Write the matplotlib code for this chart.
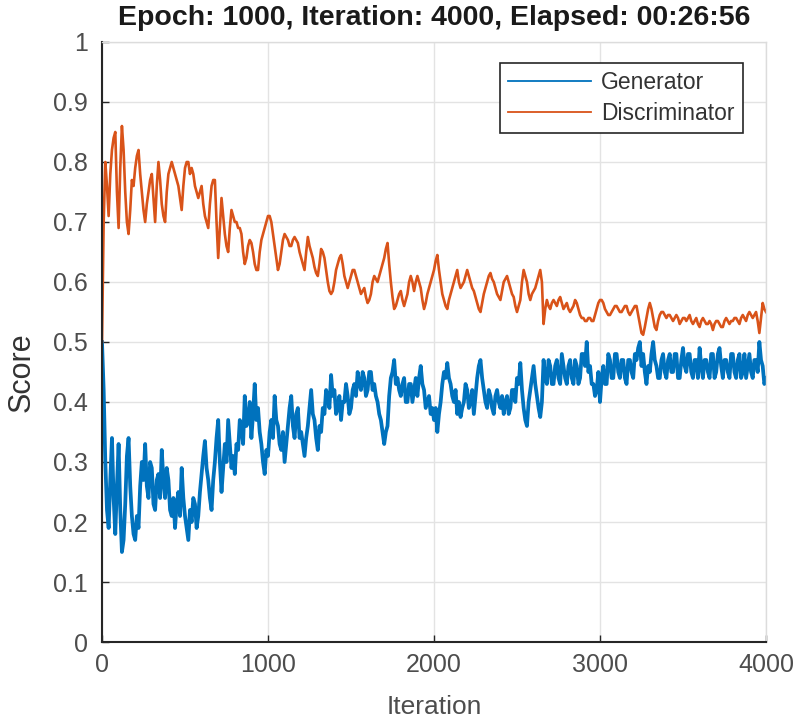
import matplotlib
matplotlib.use("Agg")
import matplotlib.pyplot as plt
import numpy as np

# scores logged every 10 iterations (one row = 200 iterations)
generator = [
    0.50, 0.42, 0.30, 0.22, 0.19, 0.27, 0.34, 0.24, 0.18, 0.26, 0.33, 0.22, 0.15, 0.17, 0.23, 0.31, 0.34, 0.26, 0.21, 0.18,
    0.17, 0.21, 0.19, 0.26, 0.30, 0.27, 0.33, 0.26, 0.24, 0.30, 0.29, 0.23, 0.22, 0.27, 0.28, 0.24, 0.32, 0.27, 0.24, 0.29,
    0.27, 0.22, 0.21, 0.24, 0.19, 0.23, 0.25, 0.21, 0.29, 0.24, 0.21, 0.19, 0.17, 0.22, 0.20, 0.24, 0.23, 0.19, 0.21, 0.25,
    0.28, 0.31, 0.335, 0.29, 0.27, 0.24, 0.22, 0.27, 0.30, 0.34, 0.37, 0.30, 0.25, 0.29, 0.33, 0.30, 0.37, 0.33, 0.29, 0.31,
    0.28, 0.33, 0.32, 0.37, 0.36, 0.33, 0.41, 0.36, 0.37, 0.40, 0.34, 0.38, 0.43, 0.37, 0.39, 0.35, 0.33, 0.30, 0.28, 0.32,
    0.31, 0.35, 0.37, 0.34, 0.41, 0.37, 0.36, 0.33, 0.32, 0.35, 0.30, 0.33, 0.36, 0.39, 0.41, 0.36, 0.34, 0.38, 0.39, 0.34,
    0.35, 0.33, 0.31, 0.34, 0.36, 0.39, 0.42, 0.38, 0.37, 0.34, 0.32, 0.36, 0.35, 0.39, 0.38, 0.42, 0.41, 0.39, 0.445, 0.41,
    0.42, 0.38, 0.39, 0.41, 0.37, 0.40, 0.40, 0.43, 0.41, 0.38, 0.39, 0.42, 0.43, 0.41, 0.45, 0.43, 0.42, 0.45, 0.44, 0.41,
    0.42, 0.45, 0.45, 0.42, 0.43, 0.41, 0.40, 0.38, 0.37, 0.35, 0.33, 0.35, 0.36, 0.41, 0.44, 0.45, 0.47, 0.43, 0.44, 0.42,
    0.41, 0.43, 0.44, 0.40, 0.40, 0.43, 0.43, 0.40, 0.42, 0.44, 0.41, 0.44, 0.46, 0.43, 0.42, 0.39, 0.40, 0.41, 0.38, 0.39,
    0.37, 0.39, 0.35, 0.38, 0.40, 0.43, 0.45, 0.44, 0.465, 0.44, 0.43, 0.41, 0.40, 0.42, 0.38, 0.40, 0.375, 0.39, 0.40, 0.43,
    0.42, 0.39, 0.40, 0.42, 0.38, 0.41, 0.44, 0.46, 0.47, 0.44, 0.42, 0.40, 0.39, 0.42, 0.41, 0.39, 0.38, 0.41, 0.42, 0.40,
    0.39, 0.41, 0.38, 0.40, 0.41, 0.38, 0.39, 0.42, 0.42, 0.40, 0.44, 0.43, 0.465, 0.42, 0.39, 0.37, 0.36, 0.40, 0.42, 0.44,
    0.46, 0.43, 0.41, 0.39, 0.375, 0.40, 0.47, 0.44, 0.43, 0.47, 0.46, 0.43, 0.43, 0.46, 0.47, 0.44, 0.43, 0.48, 0.46, 0.44,
    0.43, 0.46, 0.47, 0.44, 0.43, 0.47, 0.46, 0.43, 0.44, 0.48, 0.48, 0.46, 0.50, 0.45, 0.46, 0.43, 0.43, 0.41, 0.42, 0.45,
    0.40, 0.44, 0.46, 0.43, 0.43, 0.48, 0.47, 0.44, 0.44, 0.48, 0.48, 0.45, 0.44, 0.47, 0.47, 0.44, 0.43, 0.47, 0.47, 0.45,
    0.44, 0.48, 0.47, 0.49, 0.50, 0.46, 0.48, 0.45, 0.43, 0.46, 0.45, 0.48, 0.50, 0.47, 0.46, 0.44, 0.44, 0.47, 0.48, 0.45,
    0.44, 0.47, 0.48, 0.45, 0.45, 0.48, 0.48, 0.44, 0.44, 0.47, 0.49, 0.46, 0.45, 0.48, 0.48, 0.45, 0.44, 0.47, 0.47, 0.44,
    0.49, 0.46, 0.44, 0.47, 0.47, 0.45, 0.44, 0.48, 0.48, 0.44, 0.45, 0.48, 0.49, 0.46, 0.44, 0.47, 0.47, 0.45, 0.44, 0.48,
    0.48, 0.45, 0.44, 0.47, 0.48, 0.44, 0.45, 0.48, 0.44, 0.46, 0.48, 0.45, 0.44, 0.47, 0.47, 0.45, 0.50, 0.47, 0.46, 0.43,
    0.44,
]

discriminator = [
    0.50, 0.70, 0.80, 0.76, 0.71, 0.78, 0.82, 0.84, 0.85, 0.75, 0.69, 0.79, 0.86, 0.82, 0.75, 0.70, 0.68, 0.72, 0.77, 0.76,
    0.79, 0.81, 0.82, 0.78, 0.75, 0.72, 0.70, 0.73, 0.75, 0.77, 0.78, 0.74, 0.70, 0.76, 0.80, 0.77, 0.73, 0.71, 0.70, 0.75,
    0.78, 0.79, 0.80, 0.79, 0.78, 0.77, 0.76, 0.74, 0.72, 0.76, 0.79, 0.80, 0.80, 0.78, 0.79, 0.78, 0.76, 0.75, 0.74, 0.75,
    0.76, 0.73, 0.71, 0.70, 0.69, 0.73, 0.76, 0.77, 0.77, 0.70, 0.64, 0.69, 0.74, 0.71, 0.68, 0.66, 0.65, 0.69, 0.72, 0.71,
    0.70, 0.70, 0.69, 0.69, 0.68, 0.65, 0.63, 0.64, 0.66, 0.67, 0.665, 0.65, 0.63, 0.62, 0.62, 0.65, 0.67, 0.68, 0.69, 0.70,
    0.71, 0.71, 0.70, 0.68, 0.66, 0.64, 0.62, 0.63, 0.65, 0.67, 0.68, 0.675, 0.67, 0.66, 0.66, 0.67, 0.675, 0.67, 0.665, 0.65,
    0.64, 0.63, 0.62, 0.65, 0.675, 0.66, 0.65, 0.64, 0.625, 0.615, 0.61, 0.63, 0.655, 0.65, 0.64, 0.62, 0.60, 0.585, 0.58, 0.585,
    0.60, 0.62, 0.63, 0.64, 0.645, 0.63, 0.61, 0.60, 0.59, 0.60, 0.61, 0.62, 0.62, 0.61, 0.60, 0.59, 0.58, 0.585, 0.59, 0.575,
    0.565, 0.57, 0.58, 0.60, 0.61, 0.605, 0.60, 0.61, 0.62, 0.63, 0.64, 0.655, 0.665, 0.63, 0.60, 0.575, 0.555, 0.56, 0.57, 0.58,
    0.585, 0.57, 0.56, 0.57, 0.58, 0.60, 0.61, 0.60, 0.585, 0.60, 0.61, 0.60, 0.59, 0.57, 0.555, 0.565, 0.58, 0.59, 0.60, 0.61,
    0.62, 0.635, 0.645, 0.62, 0.60, 0.58, 0.57, 0.56, 0.555, 0.57, 0.58, 0.59, 0.60, 0.61, 0.62, 0.60, 0.59, 0.595, 0.60, 0.61,
    0.62, 0.61, 0.60, 0.59, 0.585, 0.575, 0.565, 0.555, 0.55, 0.565, 0.58, 0.59, 0.60, 0.61, 0.615, 0.605, 0.60, 0.59, 0.58, 0.575,
    0.57, 0.585, 0.60, 0.605, 0.61, 0.60, 0.59, 0.58, 0.575, 0.56, 0.55, 0.56, 0.57, 0.60, 0.62, 0.61, 0.60, 0.58, 0.57, 0.58,
    0.585, 0.59, 0.60, 0.61, 0.62, 0.60, 0.53, 0.555, 0.57, 0.56, 0.555, 0.565, 0.57, 0.565, 0.56, 0.57, 0.575, 0.565, 0.555, 0.56,
    0.565, 0.555, 0.55, 0.555, 0.56, 0.57, 0.565, 0.555, 0.545, 0.54, 0.54, 0.535, 0.535, 0.54, 0.54, 0.535, 0.535, 0.545, 0.555, 0.565,
    0.57, 0.57, 0.565, 0.555, 0.55, 0.545, 0.545, 0.55, 0.555, 0.56, 0.56, 0.555, 0.55, 0.55, 0.555, 0.56, 0.56, 0.55, 0.545, 0.55,
    0.555, 0.56, 0.56, 0.545, 0.53, 0.515, 0.512, 0.525, 0.54, 0.555, 0.565, 0.555, 0.54, 0.525, 0.52, 0.535, 0.545, 0.55, 0.55, 0.545,
    0.54, 0.545, 0.545, 0.54, 0.535, 0.54, 0.545, 0.54, 0.53, 0.535, 0.54, 0.54, 0.535, 0.54, 0.545, 0.535, 0.53, 0.535, 0.54, 0.53,
    0.525, 0.535, 0.54, 0.535, 0.53, 0.53, 0.535, 0.53, 0.52, 0.53, 0.535, 0.535, 0.53, 0.525, 0.525, 0.535, 0.54, 0.535, 0.53, 0.535,
    0.535, 0.54, 0.54, 0.535, 0.53, 0.54, 0.545, 0.54, 0.535, 0.545, 0.55, 0.545, 0.54, 0.545, 0.55, 0.535, 0.515, 0.54, 0.565, 0.555,
    0.55,
]

gen_iter = np.arange(len(generator)) * 10
dis_iter = np.arange(len(discriminator)) * 10

x_ticks = [0, 1000, 2000, 3000, 4000]
y_ticks = [0, 0.1, 0.2, 0.3, 0.4, 0.5, 0.6, 0.7, 0.8, 0.9, 1]
y_tick_labels = ["0", "0.1", "0.2", "0.3", "0.4", "0.5", "0.6", "0.7", "0.8", "0.9", "1"]

plt.rcParams["font.family"] = ["Liberation Sans", "DejaVu Sans"]

fig = plt.figure(figsize=(7.97, 7.23), dpi=100)
ax = fig.add_axes([102 / 797, 1 - 642 / 723, 664 / 797, 600 / 723])

ax.plot(gen_iter, generator, color="#0072BD", lw=2.7, label="Generator")
ax.plot(dis_iter, discriminator, color="#D95319", lw=1.9, label="Discriminator")

ax.set_xlim(0, 4000)
ax.set_ylim(0, 1)
ax.set_xticks(x_ticks)
ax.set_xticklabels([str(t) for t in x_ticks])
ax.set_yticks(y_ticks)
ax.set_yticklabels(y_tick_labels)
ax.tick_params(direction="in", length=5, width=1, color="#262626",
               labelcolor="#4d4d4d", labelsize=18)
ax.tick_params(axis="x", pad=8)
ax.tick_params(axis="y", pad=10)

ax.grid(True, color="#e3e3e3", lw=1.0)
ax.set_axisbelow(True)
for s in ["top", "right"]:
    ax.spines[s].set_color("#dcdcdc")
    ax.spines[s].set_linewidth(1)
for s in ["left", "bottom"]:
    ax.spines[s].set_color("#262626")
    ax.spines[s].set_linewidth(1.5)

ax.set_xlabel("Iteration", fontsize=19, color="#4d4d4d")
ax.xaxis.set_label_coords(0.5, -0.088)
ax.set_ylabel("Score", fontsize=22, color="#333333")
ax.yaxis.set_label_coords(-0.098, 0.45)

fig.text(434 / 797, 1 - 18 / 723, "Epoch: 1000, Iteration: 4000, Elapsed: 00:26:56",
         ha="center", va="center", fontsize=20.5, weight="bold", color="#1a1a1a")

leg = ax.legend(loc="upper right", bbox_to_anchor=(0.965, 0.965), borderaxespad=0,
                fancybox=False, edgecolor="#262626", framealpha=1, fontsize=16.5,
                handlelength=3.6, handletextpad=0.45, labelspacing=0.35, borderpad=0.35)
leg.get_frame().set_linewidth(1.2)
for line in leg.get_lines():
    line.set_linewidth(1.3)
for t in leg.get_texts():
    t.set_color("#333333")

fig.savefig("out.png", dpi=100)
